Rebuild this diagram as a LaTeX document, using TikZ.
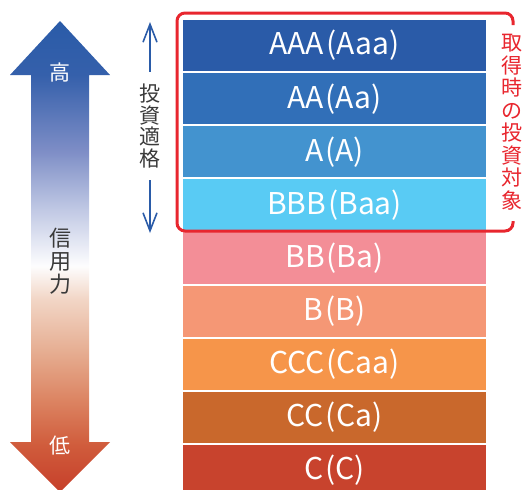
\documentclass[tikz,border=0pt]{standalone}
\usepackage{fontspec}
\setmainfont{Noto Sans CJK JP}
\usetikzlibrary{arrows.meta}
\definecolor{cAAA}{HTML}{2A5BA8}
\definecolor{cAA}{HTML}{316FB8}
\definecolor{cA}{HTML}{4393CF}
\definecolor{cBBB}{HTML}{59CBF4}
\definecolor{cBB}{HTML}{F38E97}
\definecolor{cB}{HTML}{F59775}
\definecolor{cCCC}{HTML}{F6954A}
\definecolor{cCC}{HTML}{C9682C}
\definecolor{cC}{HTML}{C8432D}
\definecolor{redline}{HTML}{E8262E}
\definecolor{arrblue}{HTML}{2A5BA8}
\definecolor{txtgray}{HTML}{3A3A3A}
\definecolor{g0}{HTML}{C63F2A}
\definecolor{g1}{HTML}{D05C3C}
\definecolor{g2}{HTML}{DC8462}
\definecolor{g3}{HTML}{E6AE92}
\definecolor{g4}{HTML}{F2D6C6}
\definecolor{g5}{HTML}{FDFDFE}
\definecolor{g6}{HTML}{C0C8E4}
\definecolor{g7}{HTML}{7D8DC6}
\definecolor{g8}{HTML}{3560AB}
\definecolor{g9}{HTML}{2A5BA8}
\pgfdeclareverticalshading{creditshade}{100bp}{color(0bp)=(g0); color(25bp)=(g0); color(30bp)=(g1); color(34.75bp)=(g2); color(40bp)=(g3); color(45.5bp)=(g4); color(49bp)=(g5); color(55bp)=(g6); color(61.25bp)=(g7); color(69.25bp)=(g8); color(75bp)=(g9); color(100bp)=(g9)}
\tikzset{
  band/.style={fill=#1, draw=none, minimum width=303pt, minimum height=51.2pt,
    inner sep=0pt, text=white, font=\fontsize{30}{32}\selectfont},
  vtext/.style={align=center, inner sep=0pt},
  bluearrow/.style={draw=arrblue, line width=1.6pt, -{Straight Barb[length=18pt,width=14pt]}},
}
\newcommand{\lp}{\kern2pt(}
\begin{document}
\begin{tikzpicture}[x=1pt,y=-1pt]
\useasboundingbox (0,0) rectangle (523,490);
% credit arrow
\shade[shading=creditshade]
  (60,21) -- (110,75) -- (89,75) -- (89,442) -- (110,442) -- (60,492)
  -- (10,442) -- (31,442) -- (31,75) -- (10,75) -- cycle;
\node[text=white, font=\fontsize{21}{22}\selectfont] (hi) at (60,73) {高};
\node[text=white, font=\fontsize{21}{22}\selectfont] (lo) at (60,446) {低};
\node[vtext, text=txtgray, font=\fontsize{22}{23}\selectfont] (cred) at (60,261) {信\\用\\力};
% bands
\node[band=cAAA] (b1) at (334.5,45.6) {AAA\lp Aaa)};
\node[band=cAA] (b2) at (334.5,98.7) {AA\lp Aa)};
\node[band=cA] (b3) at (334.5,151.8) {A\lp A)};
\node[band=cBBB] (b4) at (334.5,204.9) {BBB\lp Baa)};
\node[band=cBB] (b5) at (334.5,258.0) {BB\lp Ba)};
\node[band=cB] (b6) at (334.5,311.1) {B\lp B)};
\node[band=cCCC] (b7) at (334.5,364.2) {CCC\lp Caa)};
\node[band=cCC] (b8) at (334.5,417.3) {CC\lp Ca)};
\node[band=cC] (b9) at (334.5,470.4) {C\lp C)};
% investment grade
\node[vtext, text=txtgray, font=\fontsize{21}{21.8}\selectfont, minimum height=108pt] (inv) at (150,126) {投\\資\\適\\格};
\coordinate (uptip) at (150,22);
\coordinate (dntip) at (150,233);
\draw[bluearrow] (inv.north) -- (uptip);
\draw[bluearrow] (inv.south) -- (dntip);
% red bracket
\draw[redline, line width=3pt, rounded corners=8pt]
  (513,25) -- (513,13) -- (177,13) -- (177,231) -- (513,231) -- (513,221);
\node[vtext, text=redline, font=\fontsize{21}{22.5}\selectfont] (tgt) at (512,122) {取\\得\\時\\の\\投\\資\\対\\象};
\end{tikzpicture}
\end{document}
